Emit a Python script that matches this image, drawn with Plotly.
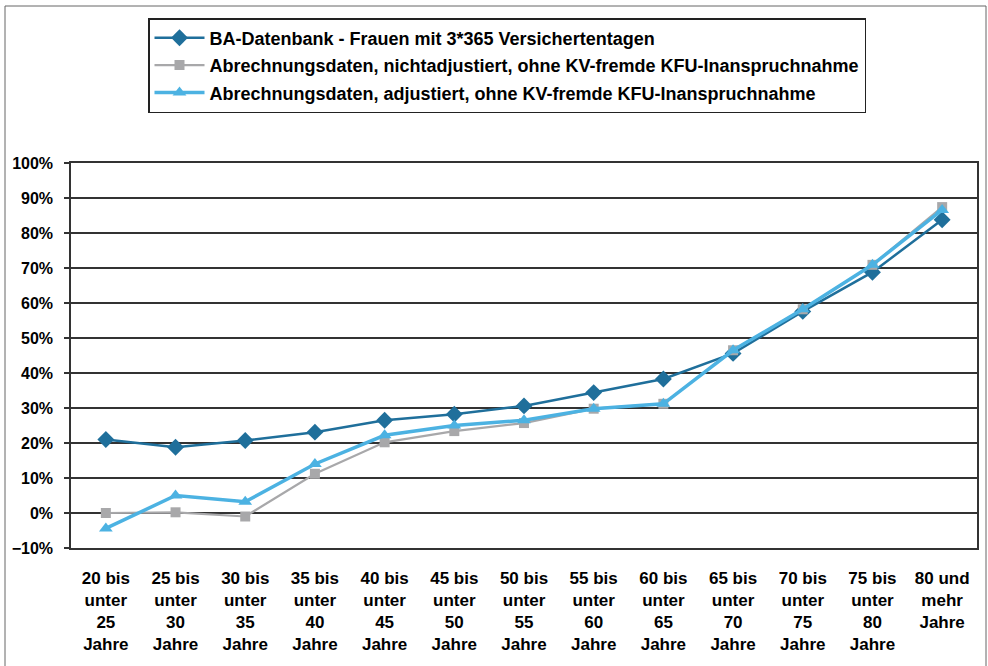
import plotly.graph_objects as go

categories = [
    "20 bis<br>unter<br>25<br>Jahre", "25 bis<br>unter<br>30<br>Jahre",
    "30 bis<br>unter<br>35<br>Jahre", "35 bis<br>unter<br>40<br>Jahre",
    "40 bis<br>unter<br>45<br>Jahre", "45 bis<br>unter<br>50<br>Jahre",
    "50 bis<br>unter<br>55<br>Jahre", "55 bis<br>unter<br>60<br>Jahre",
    "60 bis<br>unter<br>65<br>Jahre", "65 bis<br>unter<br>70<br>Jahre",
    "70 bis<br>unter<br>75<br>Jahre", "75 bis<br>unter<br>80<br>Jahre",
    "80 und<br>mehr<br>Jahre",
]

ba_values = [0.210, 0.188, 0.207, 0.231, 0.265, 0.282, 0.306, 0.344, 0.383,
             0.456, 0.576, 0.688, 0.838]
nichtadj_values = [0.000, 0.002, -0.010, 0.112, 0.202, 0.234, 0.257, 0.298,
                   0.312, 0.465, 0.582, 0.709, 0.874]
adj_values = [-0.044, 0.050, 0.032, 0.140, 0.222, 0.250, 0.265, 0.298,
              0.312, 0.465, 0.582, 0.709, 0.866]

series_names = [
    "BA-Datenbank - Frauen mit 3*365 Versichertentagen",
    "Abrechnungsdaten, nichtadjustiert, ohne KV-fremde KFU-Inanspruchnahme",
    "Abrechnungsdaten, adjustiert, ohne KV-fremde KFU-Inanspruchnahme",
]

y_min, y_max = -0.1, 1.0

FONT = "Liberation Sans, Arial, sans-serif"
C_BA = "#1F6F9B"
C_GRAY = "#A8A8AA"
C_LIGHT = "#4CB2E2"

fig = go.Figure()
fig.add_trace(go.Scatter(
    x=categories, y=ba_values, name=series_names[0], mode="lines+markers",
    line=dict(color=C_BA, width=2.5),
    marker=dict(symbol="diamond", size=13, color=C_BA),
    legendgroup="a",
))
fig.add_trace(go.Scatter(
    x=categories, y=nichtadj_values, name=series_names[1], mode="lines+markers",
    line=dict(color=C_GRAY, width=2.2),
    marker=dict(symbol="square", size=10, color=C_GRAY),
    legendgroup="b",
))
fig.add_trace(go.Scatter(
    x=categories, y=adj_values, name=series_names[2], mode="lines+markers",
    line=dict(color=C_LIGHT, width=3.5),
    marker=dict(symbol="triangle-up", size=12, color=C_LIGHT),
    legendgroup="c",
))

n = len(categories)
zero_pos = (0 - y_min) / (y_max - y_min)

L, R, T, B = 71, 11, 163, 118
W, H = 988, 666
pw, ph = W - L - R, H - T - B

fig.update_layout(
    width=W, height=H,
    margin=dict(l=L, r=R, t=T, b=B, pad=0, autoexpand=False),
    paper_bgcolor="white", plot_bgcolor="white",
    font=dict(family=FONT, size=16, color="black", weight="bold"),
    showlegend=True,
    legend=dict(
        x=(148 - L) / pw, y=1 + (T - 18) / ph, xanchor="left", yanchor="top",
        bordercolor="#222", borderwidth=1.5, bgcolor="white",
        font=dict(family=FONT, size=18, color="black", weight="bold"),
        tracegroupgap=1, traceorder="grouped", itemwidth=50,
        entrywidth=680,
    ),
    xaxis=dict(
        type="category", range=[-0.5, n - 0.5], tickangle=0,
        showline=True, linecolor="#333", linewidth=1.5, mirror=True,
        ticks="", showgrid=False, ticklabelstandoff=14,
        tickfont=dict(family=FONT, size=17, color="black", weight="bold"),
    ),
    xaxis2=dict(
        overlaying="x", anchor="free", position=zero_pos,
        range=[-0.5, n - 0.5],
        tickvals=[i + 0.5 for i in range(n - 1)],
        ticks="outside", ticklen=6, tickwidth=1.5, tickcolor="#333",
        showticklabels=False, showgrid=False, zeroline=False,
        showline=True, linecolor="#222", linewidth=1.5,
    ),
    yaxis=dict(
        range=[y_min, y_max], dtick=0.1, tick0=0, tickformat=".0%",
        showgrid=True, gridcolor="#333", gridwidth=1.5,
        zeroline=False,
        showline=True, linecolor="#333", linewidth=1.5, mirror=True,
        ticks="outside", ticklen=5, tickwidth=1.5, tickcolor="#333",
        ticklabelstandoff=8,
        tickfont=dict(family=FONT, size=16, color="black", weight="bold"),
    ),
    shapes=[dict(
        type="rect", xref="paper", yref="paper",
        x0=(5 - L) / pw, x1=(986 - L) / pw,
        y0=-(H + 10 - T - ph) / ph, y1=(H - 6 - B) / ph,
        line=dict(color="#666", width=1), fillcolor="rgba(0,0,0,0)",
        layer="below",
    )],
)

fig.write_html("out.html", config={"displayModeBar": False},
               post_script="document.body.style.margin='0';")
